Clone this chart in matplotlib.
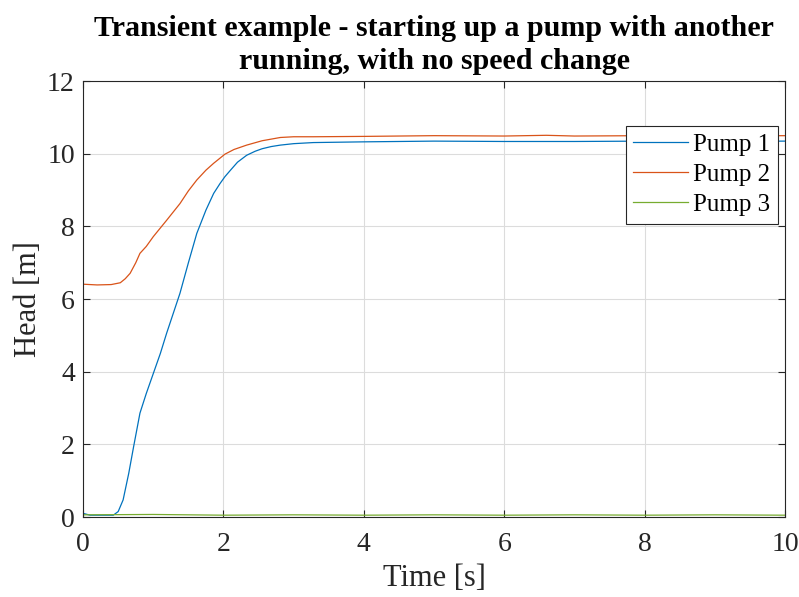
import numpy as np
import matplotlib
matplotlib.use('Agg')
import matplotlib.pyplot as plt

# Values (time in s, head in m)
t1 = [0.0, 0.1, 0.3, 0.43, 0.5, 0.57, 0.65, 0.72, 0.81, 0.9, 1.0, 1.1, 1.19, 1.38, 1.5, 1.62, 1.75,
      1.86, 1.95, 2.02, 2.1, 2.2, 2.33, 2.45, 2.55, 2.68, 2.81, 3.0, 3.28, 4.0, 5.0, 6.0, 7.0, 8.0, 9.0, 10.0]
pump1 = [0.1, 0.05, 0.05, 0.05, 0.15, 0.47, 1.2, 1.94, 2.86, 3.4, 3.95, 4.5, 5.06, 6.16, 7.0, 7.81, 8.45,
         8.91, 9.18, 9.37, 9.55, 9.77, 9.96, 10.07, 10.14, 10.2, 10.24, 10.28, 10.31, 10.33, 10.35, 10.34,
         10.34, 10.35, 10.34, 10.35]

t2 = [0.0, 0.2, 0.4, 0.53, 0.6, 0.67, 0.75, 0.81, 0.9, 1.0, 1.19, 1.38, 1.5, 1.62, 1.75, 1.86,
      1.95, 2.02, 2.15, 2.33, 2.55, 2.81, 3.0, 3.28, 4.0, 5.0, 6.0, 6.6, 7.0, 8.0, 9.0, 10.0]
pump2 = [6.41, 6.39, 6.40, 6.45, 6.56, 6.71, 7.0, 7.26, 7.45, 7.72, 8.17, 8.63, 8.98, 9.28, 9.55, 9.74,
         9.88, 9.99, 10.12, 10.24, 10.36, 10.45, 10.47, 10.47, 10.48, 10.50, 10.49, 10.51, 10.49, 10.50,
         10.49, 10.50]

t3 = [0.0, 1.0, 2.0, 3.0, 4.0, 5.0, 6.0, 7.0, 8.0, 9.0, 10.0]
pump3 = [0.06, 0.07, 0.05, 0.06, 0.05, 0.06, 0.05, 0.06, 0.05, 0.06, 0.05]

plt.rcParams['font.family'] = ['Liberation Serif', 'DejaVu Serif']

fig = plt.figure(figsize=(7.99, 5.97), dpi=100)
ax = fig.add_axes([0.104, 0.134, 0.8785, 0.730])

ax.plot(t1, pump1, color='#0072BD', lw=0.9, label='Pump 1')
ax.plot(t2, pump2, color='#D95319', lw=0.9, label='Pump 2')
ax.plot(t3, pump3, color='#77AC30', lw=0.9, label='Pump 3')

ax.set_xlim(0, 10)
ax.set_ylim(0, 12)
ax.set_xticks(np.arange(0, 11, 2))
ax.set_yticks(np.arange(0, 13, 2))
ax.grid(True, color='#DCDCDC', lw=0.8)
ax.set_axisbelow(True)
ax.tick_params(direction='in', top=True, right=True, labelsize=20, colors='#262626', length=5)
ax.tick_params(axis='x', pad=11)
ax.tick_params(axis='y', pad=6)
for s in ax.spines.values():
    s.set_color('#262626')
    s.set_linewidth(0.8)

ax.set_xlabel('Time [s]', fontsize=22, color='#262626', labelpad=5)
ax.set_ylabel('Head [m]', fontsize=22, color='#262626', labelpad=3)
ax.set_title('Transient example - starting up a pump with another\nrunning, with no speed change',
             fontsize=21.6, fontweight='bold', linespacing=1.25, pad=9)

leg = ax.legend(loc='upper right', bbox_to_anchor=(0.99, 0.897), fontsize=18, fancybox=False,
                edgecolor='#262626', framealpha=1, borderpad=0.3, labelspacing=0.3,
                handlelength=2.2, handletextpad=0.2, borderaxespad=0)
leg.get_frame().set_linewidth(0.8)

fig.savefig('out.png', dpi=100)
